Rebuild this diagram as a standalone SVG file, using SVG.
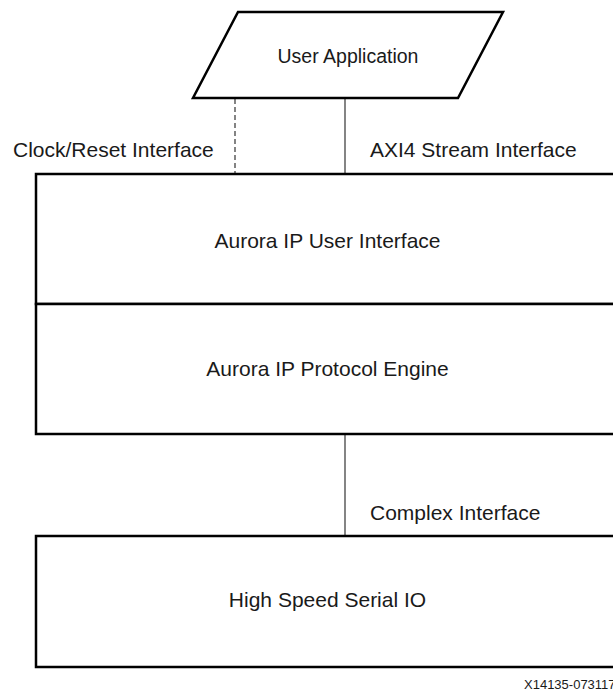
<svg xmlns="http://www.w3.org/2000/svg" width="613" height="692" viewBox="0 0 613 692">
<style>
text{font-family:"Liberation Sans",Arial,sans-serif;fill:#1a1a1a}
.lbl{font-size:21px}
.mid{text-anchor:middle}
.box{fill:#fff;stroke:#000;stroke-width:2.5}
.conn{stroke:#333;stroke-width:1.2;fill:none}
.dash{stroke-dasharray:5 3}
</style>
<rect x="0" y="0" width="613" height="692" fill="#fff"/>
<g id="connectors">
<line class="conn dash" x1="235" y1="99" x2="235" y2="174"/>
<line class="conn" x1="345" y1="99" x2="345" y2="174"/>
<line class="conn" x1="345" y1="434" x2="345" y2="536"/>
<text class="lbl" x="13" y="157">Clock/Reset Interface</text>
<text class="lbl" x="370" y="157">AXI4 Stream Interface</text>
<text class="lbl" x="370" y="520">Complex Interface</text>
</g>
<g id="user-application">
<polygon class="box" stroke-width="2" points="238,12 503,12 458,98 193,98"/>
<text x="348" y="63" class="mid" font-size="19.5">User Application</text>
</g>
<g id="aurora-user-interface">
<rect class="box" x="36" y="174" width="590" height="130"/>
<text class="lbl mid" x="327.5" y="248">Aurora IP User Interface</text>
</g>
<g id="aurora-protocol-engine">
<rect class="box" x="36" y="304" width="590" height="130"/>
<text class="lbl mid" x="327.5" y="376">Aurora IP Protocol Engine</text>
</g>
<g id="high-speed-serial-io">
<rect class="box" x="36" y="536" width="590" height="131"/>
<text class="lbl mid" x="327.5" y="607">High Speed Serial IO</text>
</g>
<text x="524" y="689" font-size="13">X14135-073117</text>
</svg>
